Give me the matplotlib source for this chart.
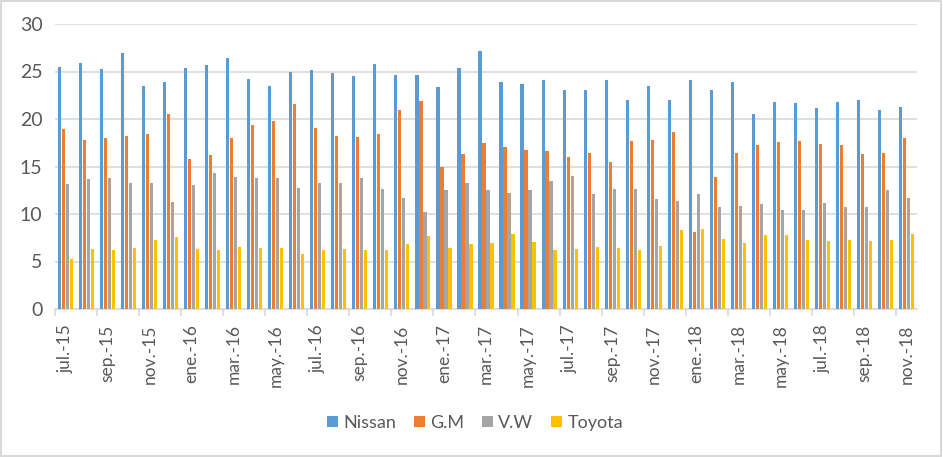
import numpy as np
import matplotlib
matplotlib.use("Agg")
import matplotlib.pyplot as plt
import matplotlib.patches as patches

plt.rcParams['font.family'] = ['Lato', 'DejaVu Sans']

# monthly values jul.2015 - nov.2018
months = ['jul.-15', 'ago.-15', 'sep.-15', 'oct.-15', 'nov.-15', 'dic.-15',
          'ene.-16', 'feb.-16', 'mar.-16', 'abr.-16', 'may.-16', 'jun.-16',
          'jul.-16', 'ago.-16', 'sep.-16', 'oct.-16', 'nov.-16', 'dic.-16',
          'ene.-17', 'feb.-17', 'mar.-17', 'abr.-17', 'may.-17', 'jun.-17',
          'jul.-17', 'ago.-17', 'sep.-17', 'oct.-17', 'nov.-17', 'dic.-17',
          'ene.-18', 'feb.-18', 'mar.-18', 'abr.-18', 'may.-18', 'jun.-18',
          'jul.-18', 'ago.-18', 'sep.-18', 'oct.-18', 'nov.-18']

nissan = [25.5, 25.9, 25.3, 27.0, 23.5, 23.9, 25.4, 25.7, 26.4, 24.2, 23.5, 24.9,
          25.2, 24.8, 24.55, 25.8, 24.65, 24.65, 23.4, 25.4, 27.2, 23.9, 23.7, 24.1,
          23.1, 23.1, 24.1, 22.0, 23.5, 22.0, 24.1, 23.1, 23.9, 20.5, 21.8, 21.7,
          21.2, 21.8, 22.0, 20.9, 21.3]
gm = [19.0, 17.8, 18.0, 18.2, 18.4, 20.5, 15.8, 16.2, 18.0, 19.4, 19.8, 21.6,
      19.1, 18.2, 18.1, 18.4, 21.0, 21.9, 14.9, 16.3, 17.5, 17.1, 16.75, 16.65,
      16.0, 16.4, 15.5, 17.7, 17.8, 18.65, 8.1, 13.9, 16.4, 17.3, 17.6, 17.7,
      17.4, 17.3, 16.3, 16.4, 18.0]
vw = [13.2, 13.7, 13.8, 13.3, 13.3, 11.3, 13.1, 14.3, 13.9, 13.8, 13.8, 12.75,
      13.3, 13.3, 13.8, 12.6, 11.7, 10.2, 12.5, 13.3, 12.5, 12.2, 12.5, 13.5,
      14.0, 12.1, 12.6, 12.6, 11.6, 11.4, 12.1, 10.75, 10.85, 11.06, 10.4, 10.4,
      11.2, 10.75, 10.75, 12.5, 11.7]
toyota = [5.27, 6.3, 6.2, 6.4, 7.3, 7.6, 6.3, 6.2, 6.5, 6.4, 6.4, 5.8,
          6.2, 6.3, 6.2, 6.2, 6.85, 7.7, 6.4, 6.85, 6.95, 7.9, 7.06, 6.2,
          6.3, 6.5, 6.4, 6.2, 6.6, 8.3, 8.4, 7.4, 6.95, 7.8, 7.8, 7.3,
          7.2, 7.3, 7.2, 7.3, 7.9]

series = [('Nissan', nissan, '#5B9BD5'),
          ('G.M', gm, '#ED7D31'),
          ('V.W', vw, '#A5A5A5'),
          ('Toyota', toyota, '#FFC000')]

fig = plt.figure(figsize=(9.43, 4.57), dpi=100)
ax = fig.add_axes([55/943, 1 - 309/457, (917-55)/943, (309-24)/457])

x = np.arange(len(months))
width = 0.15
step = 0.19
for i, (name, vals, col) in enumerate(series):
    ax.bar(x + (i - 1.5)*step, vals, width, color=col, label=name, zorder=3)

ax.set_xlim(-0.5, len(months) - 0.5)
ax.set_ylim(0, 30)
ax.set_yticks(range(0, 31, 5))
ax.grid(axis='y', color='#D9D9D9', linewidth=1.2, zorder=0)

ax.set_xticks(x[::2])
ax.set_xticklabels(months[::2], rotation=90, fontsize=12.5, color='#595959')
ax.set_xticks(np.arange(-0.5, len(months), 2), minor=True)
ax.tick_params(axis='x', which='major', length=0, pad=11)
ax.tick_params(axis='x', which='minor', length=5, color='#D9D9D9', width=1.2)
ax.tick_params(axis='y', length=0, labelsize=14, labelcolor='#595959', pad=9)

for s in ['top', 'right', 'left']:
    ax.spines[s].set_visible(False)
ax.spines['bottom'].set_color('#D9D9D9')
ax.spines['bottom'].set_linewidth(1.2)

ax.legend(loc='center', bbox_to_anchor=(475/943, 1 - 423/457), bbox_transform=fig.transFigure,
          ncol=4, frameon=False, fontsize=13, handlelength=0.6, handleheight=0.6,
          handletextpad=0.3, columnspacing=1.0, labelcolor='#595959')

# light frame around the chart
fig.patches.append(patches.Rectangle((0.001, 0.002), 0.997, 0.995, transform=fig.transFigure,
                                     fill=False, edgecolor='#D9D9D9', linewidth=1.5))

fig.savefig('out.png', dpi=100)
